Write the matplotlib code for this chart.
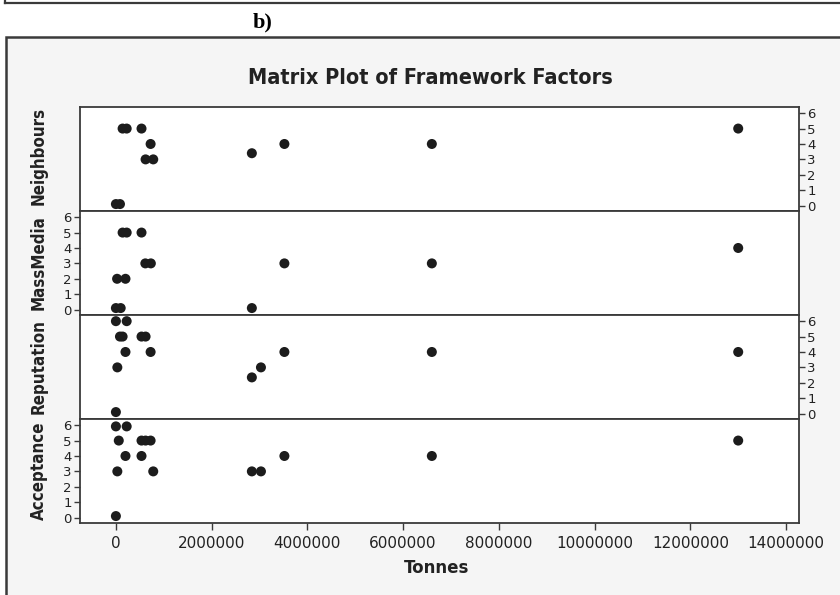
import matplotlib
matplotlib.use("Agg")
import matplotlib.pyplot as plt
from matplotlib.patches import Rectangle
from matplotlib.lines import Line2D
from matplotlib.ticker import FuncFormatter

# ---- data -------------------------------------------------------------
neighbours_tonnes = [0, 85000, 140000, 225000, 535000, 620000, 725000, 780000,
                     2840000, 3520000, 6600000, 13000000]
neighbours_score = [0.1, 0.1, 5, 5, 5, 3, 4, 3, 3.4, 4, 4, 5]

massmedia_tonnes = [0, 100000, 25000, 200000, 140000, 225000, 535000, 615000,
                    730000, 2840000, 3520000, 6600000, 13000000]
massmedia_score = [0.1, 0.1, 2, 2, 5, 5, 5, 3, 3, 0.1, 3, 3, 4]

reputation_tonnes = [0, 225000, 85000, 140000, 535000, 620000, 200000, 725000,
                     30000, 0, 2840000, 3030000, 3520000, 6600000, 13000000]
reputation_score = [6, 6, 5, 5, 5, 5, 4, 4, 3, 0.1, 2.35, 3, 4, 4, 4]

acceptance_tonnes = [0, 225000, 60000, 535000, 620000, 725000, 200000, 535000,
                     30000, 780000, 0, 2840000, 3030000, 3520000, 6600000,
                     13000000]
acceptance_score = [5.92, 5.92, 5, 5, 5, 5, 4, 4, 3, 3, 0.1, 3, 3, 4, 4, 5]

panel_names = ["Neighbours", "MassMedia", "Reputation", "Acceptance"]
panel_tonnes = [neighbours_tonnes, massmedia_tonnes, reputation_tonnes, acceptance_tonnes]
panel_scores = [neighbours_score, massmedia_score, reputation_score, acceptance_score]
score_ticks = [0, 1, 2, 3, 4, 5, 6]
tonnes_ticks = [0, 2000000, 4000000, 6000000, 8000000, 10000000, 12000000, 14000000]

# ---- figure -----------------------------------------------------------
W, H = 840, 595
fig = plt.figure(figsize=(W / 100, H / 100), dpi=100)
fig.patch.set_facecolor("white")

def fx(px):
    return px / W

def fy(py):
    return 1 - py / H

edge = "#3a3a3a"

# frame of the previous figure above and the grey frame of this one
fig.add_artist(Line2D([fx(5), fx(840)], [fy(3), fy(3)], color=edge, lw=1.6,
                      transform=fig.transFigure))
fig.add_artist(Line2D([fx(5), fx(5)], [fy(0), fy(3)], color=edge, lw=1.6,
                      transform=fig.transFigure))
fig.add_artist(Rectangle((fx(5.5), fy(600)), fx(840), fy(37) - fy(600),
                         transform=fig.transFigure, facecolor="#f5f5f5",
                         edgecolor=edge, lw=1.8, zorder=0))

fig.text(fx(263), fy(22), "b)", ha="center", va="center",
         family="Liberation Serif", fontweight="bold", fontsize=16)

fig.text(fx(430), fy(78), "Matrix Plot of Framework Factors", ha="center",
         va="center", fontweight="bold", fontsize=15.5, fontstretch="condensed",
         color="#222222")

left, right, top, bottom = 80, 799, 107, 523
ph = (bottom - top) / 4
axes = []
for i in range(4):
    y0 = top + ph * (i + 1)
    ax = fig.add_axes([fx(left), fy(y0), fx(right - left), ph / H])
    axes.append(ax)

for i, ax in enumerate(axes):
    ax.set_facecolor("white")
    ax.scatter(panel_tonnes[i], panel_scores[i], s=52, color="#1c1c1c",
               edgecolors="none", zorder=3)
    ax.set_xlim(-750000, 14270000)
    ax.set_ylim(-0.35, 6.4)
    for sp in ax.spines.values():
        sp.set_color(edge)
        sp.set_linewidth(1.3)
    ax.set_yticks(score_ticks)
    ax.tick_params(axis="y", length=4, width=1, color=edge, labelsize=9.5,
                   labelcolor="#222222", pad=2)
    if i % 2 == 0:
        ax.tick_params(axis="y", left=False, right=True, labelleft=False,
                       labelright=True)
    else:
        ax.tick_params(axis="y", left=True, right=False, labelleft=True,
                       labelright=False)
    ax.set_xticks(tonnes_ticks)
    if i < 3:
        ax.tick_params(axis="x", bottom=False, labelbottom=False)
    else:
        ax.xaxis.set_major_formatter(FuncFormatter(lambda v, p: f"{int(v)}"))
        ax.tick_params(axis="x", length=5, width=1, color=edge, labelsize=11,
                       labelcolor="#222222", pad=4)
    cy = top + ph * i + ph / 2
    if i == 0:
        cy -= 3
    fig.text(fx(39), fy(cy), panel_names[i], rotation=90, ha="center",
             va="center", fontweight="bold", fontsize=12.2, color="#222222",
             fontstretch="condensed")

fig.text(fx(437), fy(568), "Tonnes", ha="center", va="center",
         fontweight="bold", fontsize=12, color="#222222")

fig.savefig("out.png", dpi=100)
